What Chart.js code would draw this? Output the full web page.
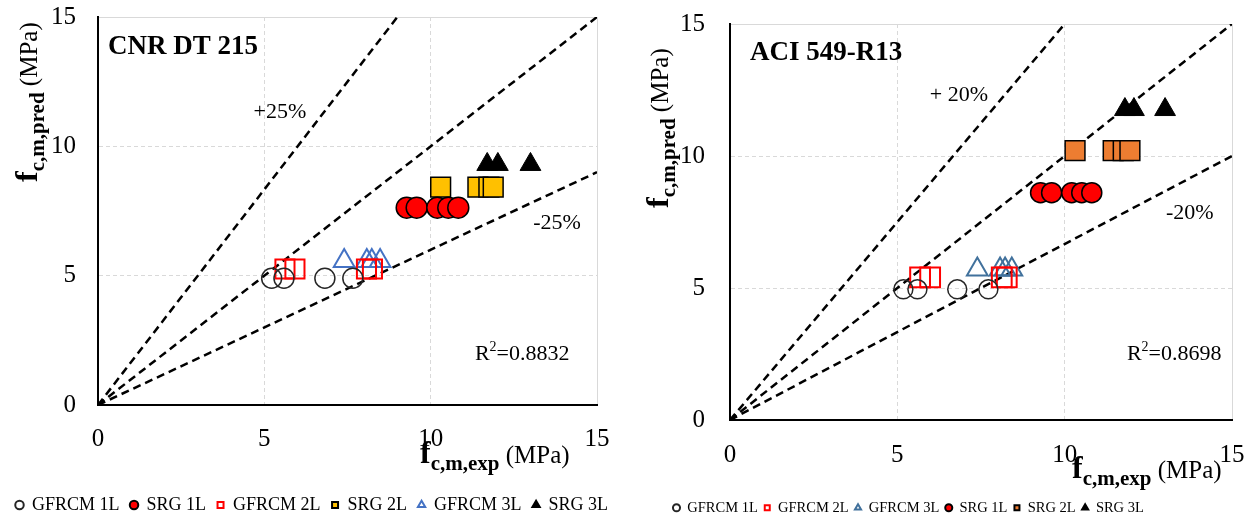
<!DOCTYPE html>
<html>
<head>
<meta charset="utf-8">
<script src="https://cdn.jsdelivr.net/npm/chart.js@4.4.1/dist/chart.umd.min.js"></script>
<style>
    html, body { margin: 0; padding: 0; background: #fff; overflow: hidden; }
    #wrap { position: relative; width: 1251px; height: 522px; overflow: hidden; }
    #boxL { position: absolute; left: 0; top: 0; }
    #boxR { position: absolute; left: 625px; top: 0; }
</style>
</head>
<body>
<div id="wrap">
    <div id="boxL"><canvas id="chartL" width="625" height="524"></canvas></div>
    <div id="boxR"><canvas id="chartR" width="626" height="525"></canvas></div>
</div>
<script>
// series names, same for both panels
const seriesNames = ['GFRCM 1L', 'SRG 1L', 'GFRCM 2L', 'SRG 2L', 'GFRCM 3L', 'SRG 3L'];

// CNR DT 215 panel: experimental vs predicted (MPa), one sub-array per series
const cnrExp = [
    [5.22, 5.59, 6.82, 7.66],
    [9.28, 9.58, 10.2, 10.53, 10.83],
    [5.62, 5.92, 8.07, 8.25],
    [10.3, 11.42, 11.75, 11.88],
    [7.4, 8.08, 8.23, 8.48],
    [11.7, 12.02, 13.0]
];
const cnrPred = [
    [4.9, 4.9, 4.9, 4.9],
    [7.63, 7.63, 7.63, 7.63, 7.63],
    [5.26, 5.26, 5.26, 5.26],
    [8.42, 8.42, 8.42, 8.42],
    [5.57, 5.57, 5.57, 5.57],
    [9.3, 9.3, 9.3]
];

// ACI 549-R13 panel
const aciExp = [
    [5.18, 5.6, 6.79, 7.72],
    [9.28, 9.61, 10.21, 10.51, 10.81],
    [5.68, 5.98, 8.12, 8.27],
    [10.31, 11.45, 11.75, 11.95],
    [7.39, 8.07, 8.22, 8.42],
    [11.8, 12.07, 13.0]
];
const aciPred = [
    [4.95, 4.95, 4.95, 4.95],
    [8.61, 8.61, 8.61, 8.61, 8.61],
    [5.4, 5.4, 5.4, 5.4],
    [10.2, 10.2, 10.2, 10.2],
    [5.7, 5.7, 5.7, 5.7],
    [11.76, 11.76, 11.76]
];

// reference lines (+bound, 1:1, -bound), endpoints
const cnrRefX = [[0, 9], [0, 15], [0, 15]];
const cnrRefY = [[0, 15], [0, 15], [0, 9]];
const aciRefX = [[0, 10], [0, 15], [0, 15]];
const aciRefY = [[0, 15], [0, 15], [0, 10]];

const axisTicks = [0, 5, 10, 15];
const cnrR2 = '0.8832';
const aciR2 = '0.8698';

const SERIF = '"Liberation Serif", "Times New Roman", serif';
const CLEAR = 'rgba(0,0,0,0)';

function drawRich(ctx, parts, x, y, rot) {
    ctx.save();
    ctx.translate(x, y);
    ctx.rotate(rot || 0);
    ctx.textAlign = 'left';
    ctx.textBaseline = 'alphabetic';
    let cx = 0;
    parts.forEach(p => {
        ctx.font = p.font;
        ctx.fillText(p.text, cx, p.dy || 0);
        cx += ctx.measureText(p.text).width;
    });
    ctx.restore();
}

const titleParts = sub => [
    { text: 'f', font: 'bold 32px ' + SERIF },
    { text: sub, font: 'bold 21px ' + SERIF, dy: 7 },
    { text: ' (MPa)', font: '25px ' + SERIF }
];

const paperText = {
    id: 'paperText',
    afterDraw(chart, args, o) {
        const ctx = chart.ctx;
        const xs = chart.scales.x, ys = chart.scales.y;
        ctx.save();
        ctx.fillStyle = '#000';
        o.notes.forEach(n => {
            ctx.font = n.font + ' ' + SERIF;
            ctx.textAlign = n.align;
            ctx.textBaseline = 'middle';
            ctx.fillText(n.text, xs.getPixelForValue(n.x), ys.getPixelForValue(n.y));
        });
        drawRich(ctx, [
            { text: 'R', font: '22px ' + SERIF },
            { text: '2', font: '14px ' + SERIF, dy: -9 },
            { text: '=' + o.r2, font: '22px ' + SERIF }
        ], xs.getPixelForValue(o.r2At[0]), ys.getPixelForValue(o.r2At[1]), 0);
        drawRich(ctx, titleParts('c,m,exp'), o.xTitle[0], o.xTitle[1], 0);
        drawRich(ctx, titleParts('c,m,pred'), o.yTitle[0], o.yTitle[1], -Math.PI / 2);
        ctx.restore();
    }
};

function makeDatasets(exp, pred, refX, refY, styles, order) {
    const pts = order.map(i => ({
        label: seriesNames[i],
        data: exp[i].map((v, k) => ({ x: v, y: pred[i][k] })),
        pointStyle: styles[i].shape,
        pointRadius: styles[i].r,
        pointHoverRadius: styles[i].r,
        pointBackgroundColor: styles[i].fill,
        pointBorderColor: styles[i].stroke,
        pointBorderWidth: styles[i].bw,
        backgroundColor: styles[i].fill,
        borderColor: styles[i].stroke,
        borderWidth: styles[i].bw
    }));
    const lines = refX.map((xx, i) => ({
        label: '',
        data: xx.map((v, k) => ({ x: v, y: refY[i][k] })),
        showLine: true,
        borderColor: '#000',
        borderWidth: 2.5,
        borderDash: [8, 5],
        pointRadius: 0,
        fill: false
    }));
    return pts.concat(lines);
}

function makeChart(id, p) {
    const H = p.height;
    const gridDash = c => (c.tick && c.tick.value === 15) ? [] : [4, 3];
    return new Chart(document.getElementById(id), {
        type: 'scatter',
        data: { datasets: makeDatasets(p.exp, p.pred, p.refX, p.refY, p.styles, p.order) },
        options: {
            responsive: false,
            animation: false,
            events: [],
            layout: { padding: { left: p.padLeft, top: p.top, right: 0, bottom: 0 } },
            scales: {
                x: {
                    type: 'linear', min: 0, max: 15,
                    afterBuildTicks: s => { s.ticks = axisTicks.map(v => ({ value: v })); },
                    grid: { color: '#d9d9d9', lineWidth: 1, drawTicks: false },
                    border: { display: true, color: '#000', width: 2, dash: gridDash },
                    ticks: { color: '#000', padding: p.xTickPad, font: { family: SERIF, size: 25 } },
                    afterFit: s => {
                        s.height = H - p.bottom - (s.chart.legend ? s.chart.legend.height : 0);
                        s.paddingLeft = 0;
                        s.paddingRight = 0;
                    }
                },
                y: {
                    type: 'linear', min: 0, max: 15,
                    afterBuildTicks: s => { s.ticks = axisTicks.map(v => ({ value: v })); },
                    grid: { color: '#d9d9d9', lineWidth: 1, drawTicks: false },
                    border: { display: true, color: '#000', width: 2, dash: gridDash },
                    ticks: { color: '#000', padding: p.yTickPad, font: { family: SERIF, size: 25 } },
                    afterFit: s => {
                        s.width = p.left - p.padLeft;
                        s.paddingTop = 0;
                        s.paddingBottom = 0;
                    }
                },
                yPad: {
                    position: 'right', display: true,
                    grid: { display: false, drawTicks: false },
                    border: { display: false },
                    ticks: { display: false },
                    afterFit: s => { s.width = p.padRight; s.paddingTop = 0; s.paddingBottom = 0; }
                }
            },
            plugins: {
                tooltip: { enabled: false },
                legend: {
                    position: 'bottom',
                    align: 'start',
                    labels: {
                        usePointStyle: true,
                        boxWidth: p.legendBox,
                        boxHeight: p.legendMark,
                        padding: p.legendPad,
                        color: '#000',
                        font: { family: SERIF, size: p.legendFont },
                        generateLabels: chart => Chart.defaults.plugins.legend.labels.generateLabels(chart)
                            .map(l => Object.assign(l, { lineWidth: 2 })),
                        filter: item => item.text !== ''
                    }
                },
                paperText: p.text
            }
        },
        plugins: [paperText]
    });
}

makeChart('chartL', {
    height: 524, left: 98, top: 17, bottom: 405, padLeft: 5, padRight: 28,
    xTickPad: 19, yTickPad: 22,
    legendFont: 18, legendPad: 11, legendBox: 7, legendMark: 6,
    exp: cnrExp, pred: cnrPred, refX: cnrRefX, refY: cnrRefY,
    order: [0, 1, 2, 3, 4, 5],
    styles: [
        { shape: 'circle', r: 10, fill: CLEAR, stroke: '#262626', bw: 1.5 },
        { shape: 'circle', r: 10.5, fill: '#FF0000', stroke: '#000', bw: 1.5 },
        { shape: 'rect', r: 13.5, fill: CLEAR, stroke: '#FF0000', bw: 2 },
        { shape: 'rect', r: 14, fill: '#FFC000', stroke: '#000', bw: 1.5 },
        { shape: 'triangle', r: 12, fill: CLEAR, stroke: '#4472C4', bw: 2 },
        { shape: 'triangle', r: 12, fill: '#000', stroke: '#000', bw: 1 }
    ],
    text: {
        notes: [
            { text: 'CNR DT 215', x: 0.3, y: 13.84, font: 'bold 27px', align: 'left' },
            { text: '+25%', x: 5.47, y: 11.33, font: '22px', align: 'center' },
            { text: '-25%', x: 13.8, y: 7.04, font: '22px', align: 'center' }
        ],
        r2: cnrR2, r2At: [11.33, 1.74],
        xTitle: [420, 463], yTitle: [37, 182]
    }
});

makeChart('chartR', {
    height: 525, left: 105, top: 24, bottom: 420, padLeft: 42, padRight: 19,
    xTickPad: 20, yTickPad: 25,
    legendFont: 14.5, legendPad: 6, legendBox: 7, legendMark: 5,
    exp: aciExp, pred: aciPred, refX: aciRefX, refY: aciRefY,
    order: [0, 2, 4, 1, 3, 5],
    styles: [
        { shape: 'circle', r: 9.5, fill: CLEAR, stroke: '#262626', bw: 1.5 },
        { shape: 'circle', r: 10, fill: '#FF0000', stroke: '#000', bw: 1.5 },
        { shape: 'rect', r: 14, fill: CLEAR, stroke: '#FF0000', bw: 2 },
        { shape: 'rect', r: 14, fill: '#ED7D31', stroke: '#000', bw: 1.5 },
        { shape: 'triangle', r: 12, fill: CLEAR, stroke: '#41719C', bw: 2 },
        { shape: 'triangle', r: 12, fill: '#000', stroke: '#000', bw: 1 }
    ],
    text: {
        notes: [
            { text: 'ACI 549-R13', x: 0.6, y: 13.9, font: 'bold 27px', align: 'left' },
            { text: '+ 20%', x: 6.84, y: 12.31, font: '22px', align: 'center' },
            { text: '-20%', x: 13.74, y: 7.84, font: '22px', align: 'center' }
        ],
        r2: aciR2, r2At: [11.86, 2.27],
        xTitle: [447, 478], yTitle: [43, 208]
    }
});
</script>
</body>
</html>
